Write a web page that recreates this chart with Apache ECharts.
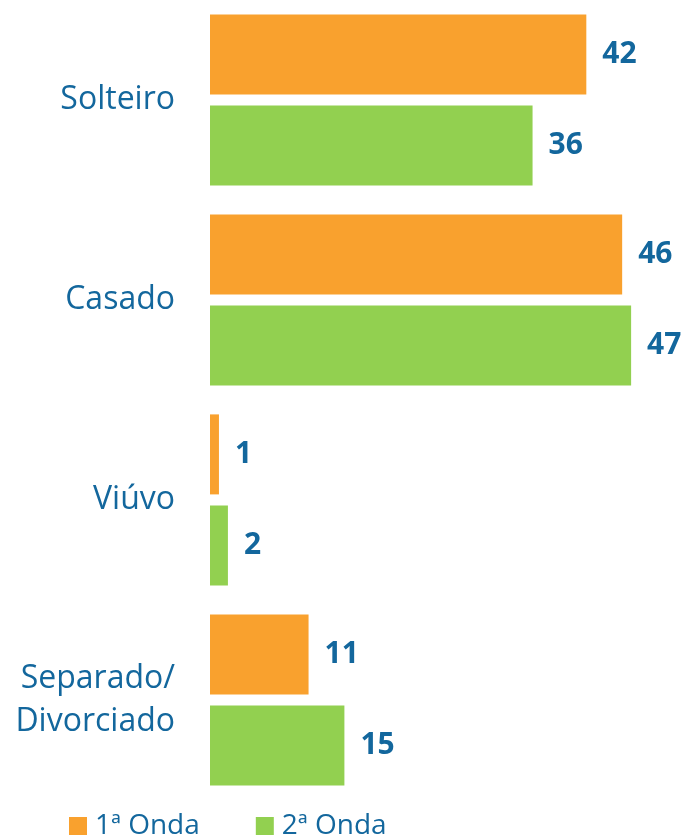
<!DOCTYPE html>
<html>
<head>
<meta charset="utf-8">
<script src="https://cdn.jsdelivr.net/npm/echarts@6/dist/echarts.min.js"></script>
<style>
html, body { margin: 0; padding: 0; background: #fff; }
#main { width: 687px; height: 839px; }
</style>
</head>
<body>
<div id="main"></div>
<script>
var categories = ['Solteiro', 'Casado', 'Viúvo', 'Separado/\nDivorciado'];
var onda1 = [42, 46, 1, 11];
var onda2 = [36, 47, 2, 15];
var seriesNames = ['1ª Onda', '2ª Onda'];

var textBlue = '#13679D';
var myChart = echarts.init(document.getElementById('main'));

var option = {
    animation: false,
    legend: {
        data: seriesNames,
        left: 69,
        top: 812,
        padding: 0,
        itemWidth: 18,
        itemHeight: 18,
        itemGap: 56,
        icon: 'rect',
        textStyle: { fontFamily: 'Open Sans', fontSize: 28, color: textBlue, padding: [0, 0, 0, 3] }
    },
    grid: { left: 210, top: 0, width: 448, height: 800 },
    xAxis: {
        type: 'value',
        min: 0,
        max: 50,
        show: false
    },
    yAxis: {
        type: 'category',
        data: categories,
        inverse: true,
        axisLine: { show: false },
        axisTick: { show: false },
        axisLabel: {
            margin: 35,
            fontFamily: 'Open Sans',
            fontSize: 32,
            lineHeight: 43,
            color: textBlue,
            padding: [4, 0, 0, 0]
        }
    },
    series: [
        {
            name: seriesNames[0],
            type: 'bar',
            data: onda1,
            barWidth: 80,
            barGap: '14%',
            itemStyle: { color: '#F9A12E' },
            label: { show: true, position: 'right', distance: 16, fontFamily: 'Open Sans', fontWeight: 'bold', fontSize: 30, color: textBlue }
        },
        {
            name: seriesNames[1],
            type: 'bar',
            data: onda2,
            barWidth: 80,
            itemStyle: { color: '#92D050' },
            label: { show: true, position: 'right', distance: 16, fontFamily: 'Open Sans', fontWeight: 'bold', fontSize: 30, color: textBlue }
        }
    ]
};

myChart.setOption(option);
</script>
</body>
</html>
